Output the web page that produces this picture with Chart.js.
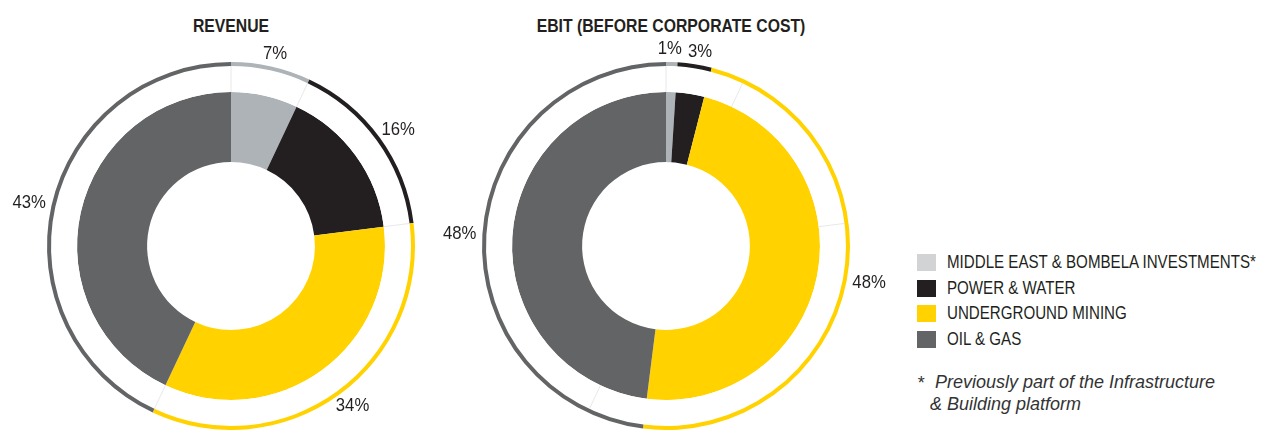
<!DOCTYPE html>
<html lang="en">
<head>
    <meta charset="UTF-8">
    <title>Revenue and EBIT by platform</title>
    <script src="https://cdn.jsdelivr.net/npm/chart.js"></script>
    <style>
        body { margin: 0; width: 1267px; height: 430px; background: #fff; position: relative; overflow: hidden;
               font-family: "Liberation Sans", Arial, sans-serif; color: #231f20; }
        .wrap { position: absolute; top: 0; width: 462px; height: 430px; }
        .title { position: absolute; top: 16px; font-weight: bold; font-size: 19px; line-height: 19px;
                 transform: translateX(-50%) scaleX(0.83); white-space: nowrap; }
        #legend { position: absolute; left: 917px; top: 250px; }
        .row { display: flex; align-items: center; height: 25.5px; white-space: nowrap; }
        .box { width: 19px; height: 17px; margin-right: 11px; }
        .row span { font-size: 18px; display: inline-block; transform: scaleX(0.84); transform-origin: left center; }
        .note { position: absolute; font-style: italic; font-size: 18px; line-height: 22px; color: #333; white-space: nowrap; }
    </style>
</head>
<body>
    <div class="title" style="left:231px">REVENUE</div>
    <div class="title" style="left:671px">EBIT (BEFORE CORPORATE COST)</div>

    <div class="wrap" style="left:0px"><canvas id="revChart"></canvas></div>
    <div class="wrap" style="left:435px"><canvas id="ebitChart"></canvas></div>

    <div id="legend"></div>
    <div class="note" style="left:917px; top:372px">*</div>
    <div class="note" style="left:935px; top:371px">Previously part of the Infrastructure</div>
    <div class="note" style="left:930px; top:393px">&amp; Building platform</div>

    <script>
        // Dữ liệu
        var segments = ['MIDDLE EAST & BOMBELA INVESTMENTS*', 'POWER & WATER', 'UNDERGROUND MINING', 'OIL & GAS'];
        var revenue = [7, 16, 34, 43];
        var ebit = [1, 3, 48, 48];
        var sliceColors = ['#aeb3b8', '#231f20', '#ffd200', '#636466'];
        var legendColors = ['#d1d3d4', '#231f20', '#ffd200', '#636466'];

        var labelScale = 0.88;

        // Nhãn % bên ngoài vòng + vạch mờ trong vòng trắng
        var ringLabels = {
            id: 'ringLabels',
            afterDatasetsDraw: function (chart) {
                var ctx = chart.ctx;
                var gap = chart.getDatasetMeta(1).data;
                ctx.save();
                ctx.strokeStyle = '#e2e2e2';
                ctx.lineWidth = 0.8;
                gap.forEach(function (arc) {
                    var a = arc.startAngle;
                    ctx.beginPath();
                    ctx.moveTo(arc.x + Math.cos(a) * arc.innerRadius, arc.y + Math.sin(a) * arc.innerRadius);
                    ctx.lineTo(arc.x + Math.cos(a) * arc.outerRadius, arc.y + Math.sin(a) * arc.outerRadius);
                    ctx.stroke();
                });

                var outer = chart.getDatasetMeta(0).data;
                var values = chart.data.datasets[0].data;
                ctx.fillStyle = '#231f20';
                ctx.font = '19px "Liberation Sans", Arial, sans-serif';
                ctx.textAlign = 'center';
                ctx.textBaseline = 'middle';

                var textH = 14;
                var items = outer.map(function (arc, i) {
                    var mid = (arc.startAngle + arc.endAngle) / 2;
                    var r = arc.outerRadius + 6;
                    var text = values[i] + '%';
                    var w = ctx.measureText(text).width * labelScale;
                    // điểm neo sát vòng, hộp chữ đẩy ra ngoài theo hướng góc
                    var ax = arc.x + Math.cos(mid) * r, ay = arc.y + Math.sin(mid) * r;
                    return { text: text, w: w,
                             x: ax + Math.cos(mid) * w / 2,
                             y: ay + Math.sin(mid) * textH / 2 };
                });
                // tránh nhãn chồng nhau
                for (var i = 1; i < items.length; i++) {
                    var a = items[i - 1], b = items[i];
                    var need = (a.w + b.w) / 2 + 6;
                    if (Math.abs(a.y - b.y) < 18 && Math.abs(b.x - a.x) < need) {
                        var push = (need - Math.abs(b.x - a.x)) / 2;
                        var dir = b.x >= a.x ? 1 : -1;
                        a.x -= push * dir;
                        b.x += push * dir;
                    }
                }
                items.forEach(function (it) {
                    ctx.save();
                    ctx.translate(it.x, it.y);
                    ctx.scale(labelScale, 1);
                    ctx.fillText(it.text, 0, 0);
                    ctx.restore();
                });
                ctx.restore();
            }
        };

        function makeChart(id, values) {
            var ctx = document.getElementById(id).getContext('2d');
            return new Chart(ctx, {
                type: 'doughnut',
                data: {
                    labels: segments,
                    datasets: [
                        { data: values, backgroundColor: sliceColors, borderWidth: 0, weight: 4 },
                        { data: revenue, backgroundColor: '#ffffff', borderWidth: 0, weight: 26 },
                        { data: values, backgroundColor: sliceColors, borderWidth: 0, weight: 70 }
                    ]
                },
                options: {
                    responsive: true,
                    maintainAspectRatio: false,
                    animation: false,
                    cutout: '45.6%',
                    hoverOffset: 0,
                    layout: { padding: { top: 62, bottom: 0, left: 47, right: 47 } },
                    plugins: {
                        legend: { display: false },
                        tooltip: { enabled: false }
                    }
                },
                plugins: [ringLabels]
            });
        }

        makeChart('revChart', revenue);
        makeChart('ebitChart', ebit);

        // Chú thích
        var legend = document.getElementById('legend');
        segments.forEach(function (name, i) {
            var row = document.createElement('div');
            row.className = 'row';
            var box = document.createElement('div');
            box.className = 'box';
            box.style.background = legendColors[i];
            var label = document.createElement('span');
            label.textContent = name;
            row.appendChild(box);
            row.appendChild(label);
            legend.appendChild(row);
        });
    </script>
</body>
</html>
